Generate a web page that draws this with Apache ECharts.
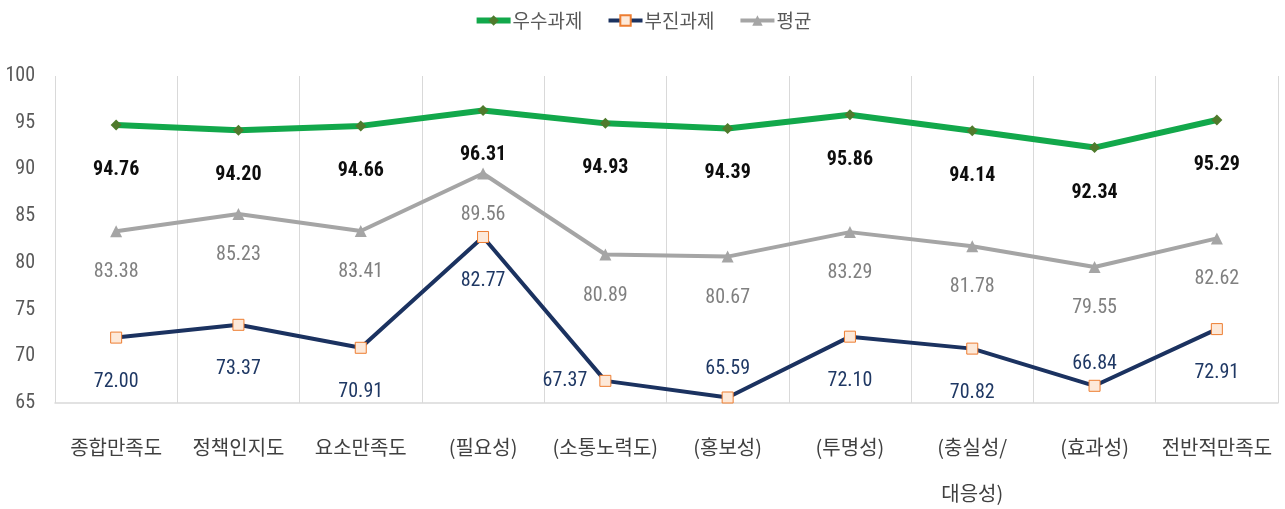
<!DOCTYPE html>
<html>
<head>
<meta charset="utf-8">
<script src="https://cdn.jsdelivr.net/npm/echarts@6/dist/echarts.min.js"></script>
<style>
  html, body { margin: 0; padding: 0; background: #fff; }
  #chart { width: 1285px; height: 509px; }
</style>
</head>
<body>
<div id="chart"></div>
<script>
// chart data
const categories = ["종합만족도", "정책인지도", "요소만족도", "(필요성)", "(소통노력도)", "(홍보성)", "(투명성)", "(충실성/\n대응성)", "(효과성)", "전반적만족도"];
const seriesNames = ["우수과제", "부진과제", "평균"];
const excellent = [94.76, 94.20, 94.66, 96.31, 94.93, 94.39, 95.86, 94.14, 92.34, 95.29];
const poor = [72.00, 73.37, 70.91, 82.77, 67.37, 65.59, 72.10, 70.82, 66.84, 72.91];
const average = [83.38, 85.23, 83.41, 89.56, 80.89, 80.67, 83.29, 81.78, 79.55, 82.62];
const yTicks = { min: 65, max: 100, step: 5 };

const FONT = '"Noto Sans CJK KR", "Noto Sans", sans-serif';
const NUM_FONT = '"Liberation Sans Narrow", "Roboto Condensed", "Noto Sans CJK KR", sans-serif';

// a few labels on the lower line sit elsewhere than below the point
const poorLabelOverrides = {
  4: { position: "left", distance: 12 },
  5: { position: "top", distance: 12 },
  8: { position: "top", distance: 6 }
};

const chart = echarts.init(document.getElementById("chart"), null, { renderer: "canvas" });

const fmt = (p) => p.value.toFixed(2);

chart.setOption({
  backgroundColor: "#fff",
  animation: false,
  textStyle: { fontFamily: FONT },
  legend: {
    top: 6,
    left: "center",
    itemWidth: 34,
    itemHeight: 13,
    itemGap: 24,
    textStyle: { fontSize: 19, color: "#595959", fontFamily: FONT, padding: [0, 0, 0, -3] },
    data: [
      { name: seriesNames[0], lineStyle: { width: 6 } },
      { name: seriesNames[1], lineStyle: { width: 4 } },
      { name: seriesNames[2], lineStyle: { width: 4 } }
    ]
  },
  grid: { left: 55, right: 7, top: 76, bottom: 106, containLabel: false, outerBoundsMode: "none" },
  xAxis: {
    type: "category",
    data: categories,
    boundaryGap: true,
    axisTick: { show: false },
    axisLine: { lineStyle: { color: "#d9d9d9", width: 1.5 } },
    splitLine: { show: true, lineStyle: { color: "#d9d9d9", width: 1 } },
    axisLabel: {
      interval: 0,
      margin: 21,
      fontSize: 20,
      lineHeight: 46,
      color: "#404040",
      fontFamily: FONT
    }
  },
  yAxis: {
    type: "value",
    min: yTicks.min,
    max: yTicks.max,
    interval: yTicks.step,
    splitLine: { show: false },
    axisLine: { show: false },
    axisTick: { show: false },
    axisLabel: { margin: 20, fontSize: 20, color: "#595959", fontFamily: NUM_FONT }
  },
  series: [
    {
      name: seriesNames[0],
      type: "line",
      data: excellent,
      symbol: "diamond",
      symbolSize: 11,
      z: 5,
      itemStyle: { color: "#4f7a2c" },
      lineStyle: { color: "#12a84b", width: 6 },
      label: {
        show: true,
        position: "inside",
        offset: [0, 45],
        formatter: fmt,
        fontSize: 20,
        fontWeight: "bold",
        color: "#0d0d0d",
        fontFamily: NUM_FONT
      }
    },
    {
      name: seriesNames[1],
      type: "line",
      data: poor.map((v, i) => {
        const o = poorLabelOverrides[i];
        return o ? { value: v, label: { position: o.position, distance: o.distance, offset: [0, 0] } } : v;
      }),
      symbol: "rect",
      symbolSize: 11,
      z: 4,
      itemStyle: { color: "#fde9d9", borderColor: "#ed7d31", borderWidth: 1 },
      lineStyle: { color: "#1b3260", width: 4 },
      label: {
        show: true,
        position: "inside",
        offset: [0, 44],
        formatter: fmt,
        fontSize: 20,
        color: "#1f3864",
        fontFamily: NUM_FONT
      }
    },
    {
      name: seriesNames[2],
      type: "line",
      data: average,
      symbol: "triangle",
      symbolSize: 12,
      z: 3,
      itemStyle: { color: "#a5a5a5" },
      lineStyle: { color: "#a5a5a5", width: 4 },
      label: {
        show: true,
        position: "inside",
        offset: [0, 41],
        formatter: fmt,
        fontSize: 20,
        color: "#808080",
        fontFamily: NUM_FONT
      }
    }
  ]
});
</script>
</body>
</html>
